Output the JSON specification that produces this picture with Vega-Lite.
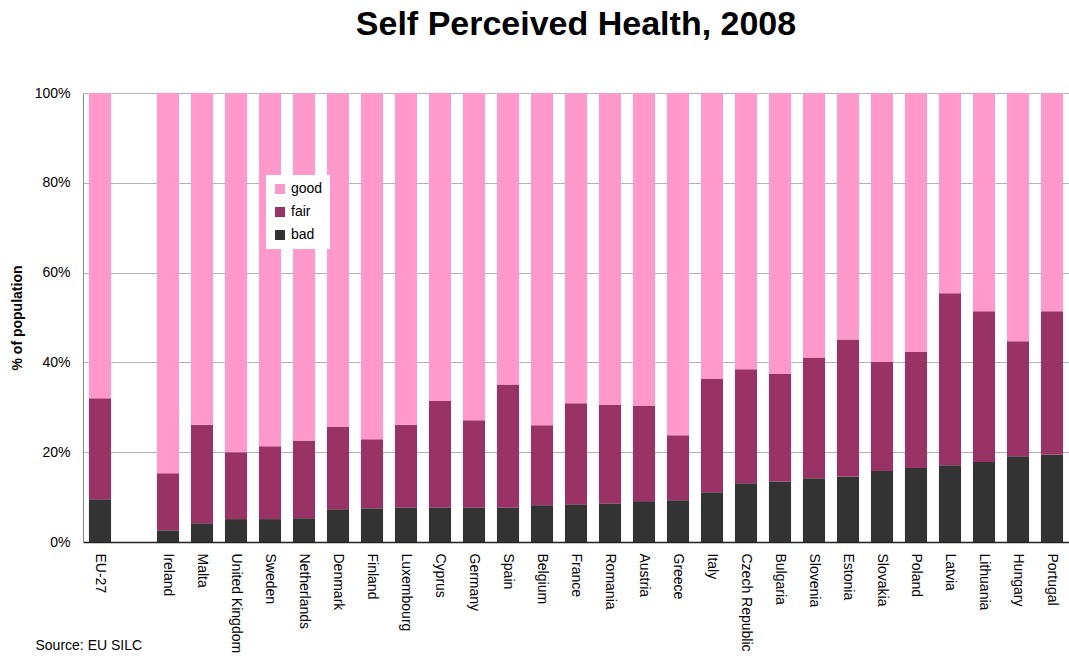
{
  "$schema": "https://vega.github.io/schema/vega-lite/v6.json",
  "width": 986,
  "height": 449,
  "autosize": {"type": "none"},
  "padding": {"left": 83, "top": 93, "right": 0, "bottom": 119},
  "background": "white",
  "title": {
    "text": "Self Perceived Health, 2008",
    "font": "Liberation Sans",
    "fontSize": 34,
    "fontWeight": "bold",
    "color": "black",
    "anchor": "middle",
    "offset": 44
  },
  "data": {
    "values": [
      {"country": "EU-27", "health": "bad", "pct": 9.5}, {"country": "EU-27", "health": "fair", "pct": 22.5}, {"country": "EU-27", "health": "good", "pct": 68.0},
      {"country": "Ireland", "health": "bad", "pct": 2.6}, {"country": "Ireland", "health": "fair", "pct": 12.7}, {"country": "Ireland", "health": "good", "pct": 84.7},
      {"country": "Malta", "health": "bad", "pct": 4.2}, {"country": "Malta", "health": "fair", "pct": 21.9}, {"country": "Malta", "health": "good", "pct": 73.9},
      {"country": "United Kingdom", "health": "bad", "pct": 5.1}, {"country": "United Kingdom", "health": "fair", "pct": 14.9}, {"country": "United Kingdom", "health": "good", "pct": 80.0},
      {"country": "Sweden", "health": "bad", "pct": 5.1}, {"country": "Sweden", "health": "fair", "pct": 16.2}, {"country": "Sweden", "health": "good", "pct": 78.7},
      {"country": "Netherlands", "health": "bad", "pct": 5.3}, {"country": "Netherlands", "health": "fair", "pct": 17.3}, {"country": "Netherlands", "health": "good", "pct": 77.4},
      {"country": "Denmark", "health": "bad", "pct": 7.3}, {"country": "Denmark", "health": "fair", "pct": 18.3}, {"country": "Denmark", "health": "good", "pct": 74.4},
      {"country": "Finland", "health": "bad", "pct": 7.5}, {"country": "Finland", "health": "fair", "pct": 15.4}, {"country": "Finland", "health": "good", "pct": 77.1},
      {"country": "Luxembourg", "health": "bad", "pct": 7.7}, {"country": "Luxembourg", "health": "fair", "pct": 18.4}, {"country": "Luxembourg", "health": "good", "pct": 73.9},
      {"country": "Cyprus", "health": "bad", "pct": 7.7}, {"country": "Cyprus", "health": "fair", "pct": 23.7}, {"country": "Cyprus", "health": "good", "pct": 68.6},
      {"country": "Germany", "health": "bad", "pct": 7.7}, {"country": "Germany", "health": "fair", "pct": 19.4}, {"country": "Germany", "health": "good", "pct": 72.9},
      {"country": "Spain", "health": "bad", "pct": 7.7}, {"country": "Spain", "health": "fair", "pct": 27.4}, {"country": "Spain", "health": "good", "pct": 64.9},
      {"country": "Belgium", "health": "bad", "pct": 8.2}, {"country": "Belgium", "health": "fair", "pct": 17.8}, {"country": "Belgium", "health": "good", "pct": 74.0},
      {"country": "France", "health": "bad", "pct": 8.4}, {"country": "France", "health": "fair", "pct": 22.5}, {"country": "France", "health": "good", "pct": 69.1},
      {"country": "Romania", "health": "bad", "pct": 8.6}, {"country": "Romania", "health": "fair", "pct": 21.9}, {"country": "Romania", "health": "good", "pct": 69.5},
      {"country": "Austria", "health": "bad", "pct": 9.1}, {"country": "Austria", "health": "fair", "pct": 21.2}, {"country": "Austria", "health": "good", "pct": 69.7},
      {"country": "Greece", "health": "bad", "pct": 9.3}, {"country": "Greece", "health": "fair", "pct": 14.5}, {"country": "Greece", "health": "good", "pct": 76.2},
      {"country": "Italy", "health": "bad", "pct": 11.1}, {"country": "Italy", "health": "fair", "pct": 25.2}, {"country": "Italy", "health": "good", "pct": 63.7},
      {"country": "Czech Republic", "health": "bad", "pct": 13.1}, {"country": "Czech Republic", "health": "fair", "pct": 25.4}, {"country": "Czech Republic", "health": "good", "pct": 61.5},
      {"country": "Bulgaria", "health": "bad", "pct": 13.5}, {"country": "Bulgaria", "health": "fair", "pct": 23.9}, {"country": "Bulgaria", "health": "good", "pct": 62.6},
      {"country": "Slovenia", "health": "bad", "pct": 14.2}, {"country": "Slovenia", "health": "fair", "pct": 26.9}, {"country": "Slovenia", "health": "good", "pct": 58.9},
      {"country": "Estonia", "health": "bad", "pct": 14.6}, {"country": "Estonia", "health": "fair", "pct": 30.5}, {"country": "Estonia", "health": "good", "pct": 54.9},
      {"country": "Slovakia", "health": "bad", "pct": 15.8}, {"country": "Slovakia", "health": "fair", "pct": 24.3}, {"country": "Slovakia", "health": "good", "pct": 59.9},
      {"country": "Poland", "health": "bad", "pct": 16.5}, {"country": "Poland", "health": "fair", "pct": 25.8}, {"country": "Poland", "health": "good", "pct": 57.7},
      {"country": "Latvia", "health": "bad", "pct": 17.1}, {"country": "Latvia", "health": "fair", "pct": 38.3}, {"country": "Latvia", "health": "good", "pct": 44.6},
      {"country": "Lithuania", "health": "bad", "pct": 17.8}, {"country": "Lithuania", "health": "fair", "pct": 33.6}, {"country": "Lithuania", "health": "good", "pct": 48.6},
      {"country": "Hungary", "health": "bad", "pct": 19.1}, {"country": "Hungary", "health": "fair", "pct": 25.6}, {"country": "Hungary", "health": "good", "pct": 55.3},
      {"country": "Portugal", "health": "bad", "pct": 19.5}, {"country": "Portugal", "health": "fair", "pct": 31.9}, {"country": "Portugal", "health": "good", "pct": 48.6}
    ]
  },
  "mark": {"type": "bar"},
  "encoding": {
    "x": {
      "field": "country",
      "type": "nominal",
      "scale": {
        "domain": ["EU-27", " ", "Ireland", "Malta", "United Kingdom", "Sweden", "Netherlands", "Denmark", "Finland", "Luxembourg", "Cyprus", "Germany", "Spain", "Belgium", "France", "Romania", "Austria", "Greece", "Italy", "Czech Republic", "Bulgaria", "Slovenia", "Estonia", "Slovakia", "Poland", "Latvia", "Lithuania", "Hungary", "Portugal"],
        "paddingInner": 0.35,
        "paddingOuter": 0.175
      },
      "axis": {
        "title": "Source: EU SILC",
        "titleFont": "Liberation Sans",
        "titleFontSize": 14,
        "titleFontWeight": "normal",
        "titleColor": "black",
        "titleAnchor": "start",
        "titleAlign": "left",
        "titleBaseline": "middle",
        "titleX": -48,
        "titleY": 103,
        "labelAngle": 90,
        "labelAlign": "left",
        "labelBaseline": "middle",
        "labelPadding": 11,
        "labelFont": "Liberation Sans",
        "labelFontSize": 14,
        "labelColor": "black",
        "labelLimit": 300,
        "ticks": false,
        "domainColor": "#222222",
        "domainWidth": 1.5
      }
    },
    "y": {
      "field": "pct",
      "type": "quantitative",
      "stack": "zero",
      "scale": {"domain": [0, 100], "nice": false},
      "axis": {
        "title": "% of population",
        "titleFont": "Liberation Sans",
        "titleFontSize": 14,
        "titleFontWeight": "bold",
        "titleColor": "black",
        "titleX": -66,
        "titleBaseline": "middle",
        "values": [0, 20, 40, 60, 80, 100],
        "labelExpr": "datum.value + '%'",
        "labelFont": "Liberation Sans",
        "labelFontSize": 14,
        "labelColor": "black",
        "labelPadding": 13,
        "ticks": false,
        "grid": true,
        "gridColor": "#b3b3b3",
        "gridWidth": 1,
        "domainColor": "#888888",
        "domainWidth": 1
      }
    },
    "color": {
      "field": "health",
      "type": "nominal",
      "scale": {"domain": ["good", "fair", "bad"], "range": ["#ff99cc", "#993366", "#333333"]},
      "legend": {
        "title": null,
        "orient": "none",
        "legendX": 183,
        "legendY": 82,
        "direction": "vertical",
        "fillColor": "white",
        "padding": 7,
        "symbolType": "square",
        "symbolSize": 100,
        "symbolStrokeWidth": 0,
        "rowPadding": 9,
        "labelOffset": 4,
        "labelFont": "Liberation Sans",
        "labelFontSize": 14,
        "labelColor": "black"
      }
    },
    "order": {"field": "health", "sort": "ascending"}
  },
  "config": {
    "view": {"stroke": null}
  }
}
